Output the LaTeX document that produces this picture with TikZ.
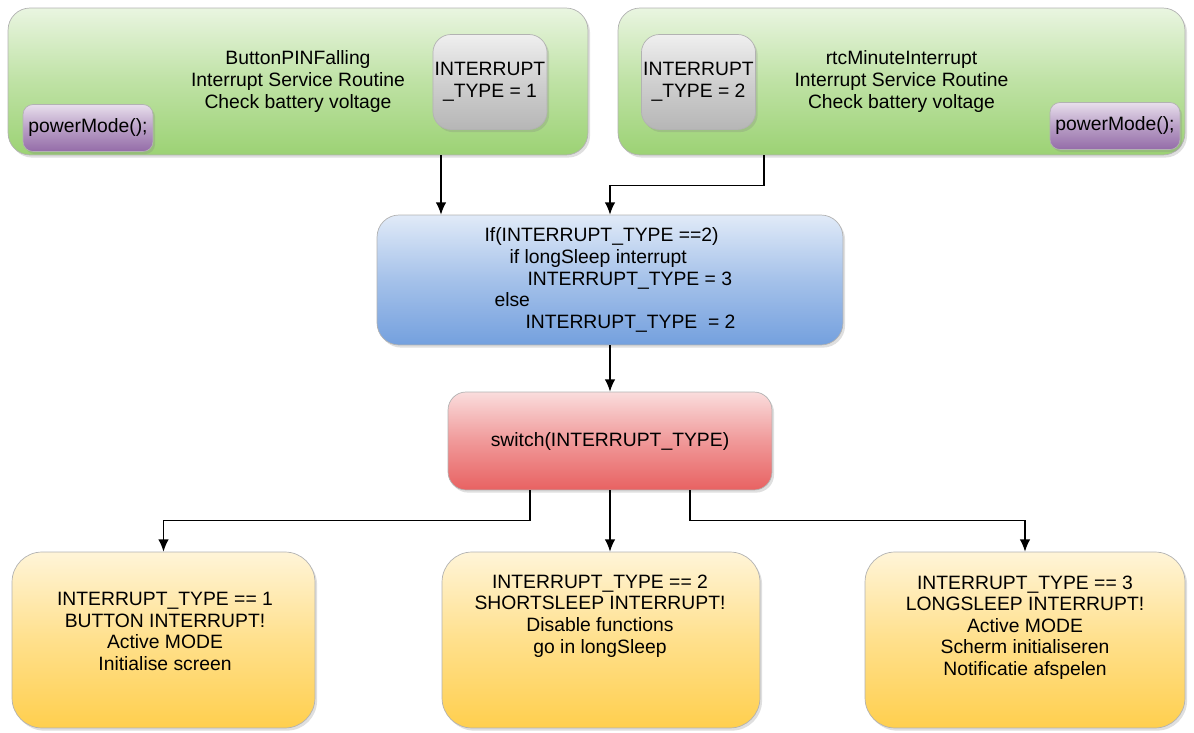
\documentclass[tikz,border=0pt]{standalone}
\usepackage{fontspec}
\setmainfont{Liberation Sans}
\usetikzlibrary{arrows.meta,shadows}

\definecolor{isrgreen}{RGB}{156,210,116}
\definecolor{ifblue}{RGB}{116,160,222}
\definecolor{swred}{RGB}{232,98,98}
\definecolor{caseyellow}{RGB}{255,207,78}
\definecolor{typegray}{RGB}{182,182,182}
\definecolor{modepurple}{RGB}{148,108,168}

\begin{document}
\begin{tikzpicture}
	[x=0.02cm, y=-0.02cm, font=\fontsize{11}{12.3}\selectfont,
	box/.style = {draw=black!30, align=center, inner sep=1pt,
		drop shadow={opacity=0.25, shadow xshift=1.2pt, shadow yshift=-1.5pt}},
	gloss/.style = {top color=white!78!#1, bottom color=#1, middle color=white!35!#1},
	isr/.style = {box, gloss=isrgreen, rounded corners=0.44cm, minimum height=2.94cm},
	itype/.style = {box, gloss=typegray, rounded corners=0.36cm, minimum width=2.28cm, minimum height=1.9cm},
	pmode/.style = {box, gloss=modepurple, rounded corners=0.2cm, minimum width=2.6cm, minimum height=0.94cm},
	check/.style = {box, gloss=ifblue, rounded corners=0.44cm, minimum width=9.32cm, minimum height=2.6cm},
	switch/.style = {box, gloss=swred, rounded corners=0.36cm, minimum width=6.48cm, minimum height=1.96cm},
	casebox/.style = {box, gloss=caseyellow, rounded corners=0.6cm, minimum height=3.52cm},
	flow/.style = {-{Latex[length=7pt,width=6pt]}, line width=0.8pt}]
	\useasboundingbox (0,0) rectangle (1194,733);
	% interrupt service routines
	\node[isr, minimum width=11.6cm] (isr1) at (298,81.5)
		{ButtonPINFalling\\Interrupt Service Routine\\Check battery voltage};
	\node[isr, minimum width=11.34cm] (isr2) at (901.5,81.5)
		{rtcMinuteInterrupt\\Interrupt Service Routine\\Check battery voltage};
	\node[itype] (type1) at (490,82) {INTERRUPT\\\_TYPE = 1};
	\node[itype] (type2) at (698.5,82) {INTERRUPT\\\_TYPE = 2};
	\node[pmode] (mode1) at (88,128) {powerMode();};
	\node[pmode] (mode2) at (1115,126) {powerMode();};
	% decision and switch
	\node[check, align=left] (check) at (610,280)
		{If(INTERRUPT\_TYPE ==2)\\
		\hspace*{0.5cm}if longSleep interrupt\\
		\hspace*{0.86cm}INTERRUPT\_TYPE = 3\\
		\hspace*{0.2cm}else\\
		\hspace*{0.82cm}INTERRUPT\_TYPE\ \ = 2};
	\node[switch] (sw) at (610,441) {switch(INTERRUPT\_TYPE)};
	% cases
	\node[casebox, minimum width=6.06cm] (case1) at (163.5,640) {};
	\node[casebox, minimum width=6.36cm] (case2) at (601,640) {};
	\node[casebox, minimum width=6.4cm] (case3) at (1025,640) {};
	\node[align=center] (case1txt) at (165,631.5)
		{INTERRUPT\_TYPE == 1\\BUTTON INTERRUPT!\\Active MODE\\Initialise screen};
	\node[align=center] (case2txt) at (600,616)
		{INTERRUPT\_TYPE == 2\\SHORTSLEEP INTERRUPT!\\Disable functions\\go in longSleep};
	\node[align=center] (case3txt) at (1025,627.5)
		{INTERRUPT\_TYPE == 3\\LONGSLEEP INTERRUPT!\\Active MODE\\Scherm initialiseren\\Notificatie afspelen};
	% connectors
	\coordinate (x1) at (441,0);
	\coordinate (x2) at (764,0);
	\draw[flow] (isr1.south -| x1) -- (check.north -| x1);
	\draw[flow] (isr2.south -| x2) -- ++(0,30) -| (check.north);
	\draw[flow] (check.south) -- (sw.north);
	\draw[flow] ([xshift=-1.6cm]sw.south) -- ++(0,30) -| (case1.north);
	\draw[flow] (sw.south) -- (sw.south |- case2.north);
	\draw[flow] ([xshift=1.6cm]sw.south) -- ++(0,30) -| (case3.north);
\end{tikzpicture}
\end{document}
